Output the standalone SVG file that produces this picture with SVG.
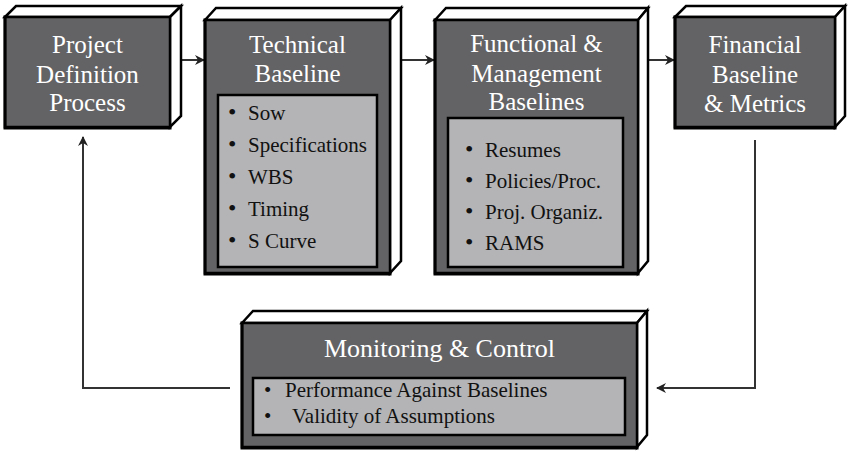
<svg xmlns="http://www.w3.org/2000/svg" width="855" height="453" viewBox="0 0 855 453">
<defs>
<style>
.face{fill:#636365;stroke:#000;stroke-width:2.5}
.shadow{fill:none;stroke:#000;stroke-width:3;stroke-linecap:square}
.side{fill:#fff;stroke:#000;stroke-width:2.5;stroke-linejoin:miter}
.inner{fill:#b4b4b6;stroke:#000;stroke-width:2.5}
text{font-family:"Liberation Serif","Times New Roman",Times,Tinos,"Noto Serif","DejaVu Serif",FreeSerif,serif}
.title{font-size:25px;fill:#fff;text-anchor:middle}
.item{font-size:21px;fill:#111}
.b{font-size:24px}
.conn{fill:none;stroke:#333;stroke-width:2}
</style>
<marker id="ah" viewBox="0 0 10 10" refX="9" refY="5" markerWidth="10" markerHeight="10" markerUnits="userSpaceOnUse" orient="auto">
<path d="M0,0 L10,5 L0,10 L3,5 Z" fill="#222"/>
</marker>
</defs>
<rect width="855" height="453" fill="#fff"/>

<g id="connectors">
<line class="conn" x1="182" y1="60" x2="204" y2="60" marker-end="url(#ah)"/>
<line class="conn" x1="401" y1="60" x2="434" y2="60" marker-end="url(#ah)"/>
<line class="conn" x1="648" y1="60" x2="674" y2="60" marker-end="url(#ah)"/>
<polyline class="conn" points="755,140 755,388 657,388" marker-end="url(#ah)"/>
<polyline class="conn" points="230,388 83,388 83,137" marker-end="url(#ah)"/>
</g>

<g id="project-definition">
<polygon class="side" points="5,17 16,6 181,6 170,17"/>
<polygon class="side" points="170,17 181,6 181,116 170,127"/>
<rect class="face" x="5" y="17" width="165" height="110"/>
<polyline class="shadow" points="5,17 5,128 170,128"/>
<text class="title" x="87.5" y="53">Project</text>
<text class="title" x="87.5" y="83">Definition</text>
<text class="title" x="87.5" y="111">Process</text>
</g>

<g id="technical-baseline">
<polygon class="side" points="205,20 216,8 401,8 390,20"/>
<polygon class="side" points="390,20 401,8 401,261 390,273"/>
<rect class="face" x="205" y="20" width="185" height="253"/>
<polyline class="shadow" points="205,20 205,274 390,274"/>
<text class="title" x="297.5" y="53">Technical</text>
<text class="title" x="297.5" y="82">Baseline</text>
<rect class="inner" x="218" y="95" width="159" height="172"/>
<text class="item"><tspan class="b" x="228" y="120">•</tspan><tspan x="248" y="120">Sow</tspan></text>
<text class="item"><tspan class="b" x="228" y="152">•</tspan><tspan x="248" y="152">Specifications</tspan></text>
<text class="item"><tspan class="b" x="228" y="184">•</tspan><tspan x="248" y="184">WBS</tspan></text>
<text class="item"><tspan class="b" x="228" y="216">•</tspan><tspan x="248" y="216">Timing</tspan></text>
<text class="item"><tspan class="b" x="228" y="248">•</tspan><tspan x="248" y="248">S Curve</tspan></text>
</g>

<g id="functional-management">
<polygon class="side" points="435,20 446,8 648,8 638,20"/>
<polygon class="side" points="638,20 648,8 648,261 638,273"/>
<rect class="face" x="435" y="20" width="203" height="253"/>
<polyline class="shadow" points="435,20 435,274 638,274"/>
<text class="title" x="536.5" y="52">Functional &amp;</text>
<text class="title" x="536.5" y="82">Management</text>
<text class="title" x="536.5" y="110">Baselines</text>
<rect class="inner" x="448" y="118" width="175" height="149"/>
<text class="item"><tspan class="b" x="465" y="157">•</tspan><tspan x="485" y="157">Resumes</tspan></text>
<text class="item"><tspan class="b" x="465" y="188">•</tspan><tspan x="485" y="188">Policies/Proc.</tspan></text>
<text class="item"><tspan class="b" x="465" y="219">•</tspan><tspan x="485" y="219">Proj. Organiz.</tspan></text>
<text class="item"><tspan class="b" x="465" y="250">•</tspan><tspan x="485" y="250">RAMS</tspan></text>
</g>

<g id="financial-baseline">
<polygon class="side" points="675,17 686,6 845,6 835,17"/>
<polygon class="side" points="835,17 845,6 845,116 835,127"/>
<rect class="face" x="675" y="17" width="160" height="110"/>
<polyline class="shadow" points="675,17 675,128 835,128"/>
<text class="title" x="755" y="53">Financial</text>
<text class="title" x="755" y="83">Baseline</text>
<text class="title" x="755" y="112">&amp; Metrics</text>
</g>

<g id="monitoring-control">
<polygon class="side" points="242,323 253,311 647,311 637,323"/>
<polygon class="side" points="637,323 647,311 647,435 637,447"/>
<rect class="face" x="242" y="323" width="395" height="124"/>
<polyline class="shadow" points="242,323 242,448 637,448"/>
<text class="title" x="439.5" y="357" style="font-size:26px">Monitoring &amp; Control</text>
<rect class="inner" x="253" y="378" width="372" height="57"/>
<text class="item"><tspan x="264" y="397">•</tspan><tspan x="285" y="397">Performance Against Baselines</tspan></text>
<text class="item"><tspan x="264" y="423">•</tspan><tspan x="292" y="423">Validity of Assumptions</tspan></text>
</g>
</svg>
